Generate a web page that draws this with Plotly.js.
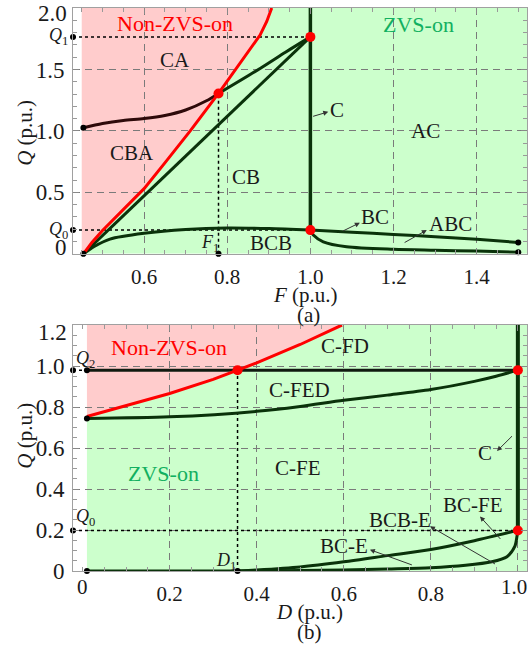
<!DOCTYPE html>
<html>
<head>
<meta charset="utf-8">
<script src="https://cdn.plot.ly/plotly-3.0.1.min.js"></script>
<style>
  html, body { margin: 0; padding: 0; background: #fff; }
  #chart { width: 528px; height: 646px; }
</style>
</head>
<body>
<div id="chart"></div>
<script>
// ---------- (a) Q versus F ----------
const rangeF = [0.429, 1.521];
const rangeQa = [0, 2.0];
const regionStartF = 0.45;

// ZVS-on / Non-ZVS-on boundary
const redF = [0.454, 0.475, 0.5, 0.55, 0.6, 0.65, 0.711, 0.779, 0.83, 0.879, 0.895, 0.907];
const redQ = [0, 0.095, 0.19, 0.36, 0.53, 0.74, 1.0, 1.305, 1.547, 1.78, 1.89, 2.0];
// CA / CBA boundary
const caF = [0.454, 0.5, 0.55, 0.6, 0.65, 0.7, 0.75, 0.779];
const caQ = [1.025, 1.06, 1.085, 1.1, 1.125, 1.17, 1.245, 1.305];
// CA / CB boundary
const upperF = [0.779, 0.88, 0.94, 1.0];
const upperQ = [1.305, 1.51, 1.64, 1.765];
// CBA / CB boundary
const diagF = [0.454, 1.0];
const diagQ = [0, 1.765];
// CB / BCB boundary
const bcbF = [0.454, 0.48, 0.518, 0.6, 0.7, 0.8, 0.9, 1.0];
const bcbQ = [0, 0.06, 0.12, 0.167, 0.198, 0.21, 0.205, 0.193];
// C mode at F = 1
const cF = [1.0, 1.0];
const cQ = [0.193, 2.0];
// BC and ABC branches
const bcF = [1.0, 1.1, 1.2, 1.3, 1.4, 1.5];
const bcQ = [0.193, 0.176, 0.158, 0.139, 0.118, 0.092];
const abcF = [1.0, 1.007, 1.031, 1.087, 1.2, 1.3, 1.4, 1.5];
const abcQ = [0.193, 0.153, 0.098, 0.058, 0.037, 0.029, 0.022, 0.012];
// characteristic points
const F1 = 0.779, QF1 = 1.305, Q1 = 1.765, Q0a = 0.193;

// ---------- (b) Q versus D ----------
const rangeD = [-0.022, 1.021];
const rangeQb = [0, 1.2];
const regionStartD = 0.01;

const redD = [0.01, 0.1, 0.2, 0.3, 0.356, 0.4, 0.5, 0.596];
const redQb = [0.754, 0.806, 0.866, 0.935, 0.98, 1.015, 1.105, 1.2];
const fedD = [0.01, 0.2, 0.4, 0.5, 0.6, 0.7, 0.8, 0.9, 0.95, 1.0];
const fedQ = [0.744, 0.752, 0.779, 0.803, 0.833, 0.858, 0.885, 0.925, 0.95, 0.98];
const q2D = [0.01, 1.0];
const q2Q = [0.98, 0.98];
const cD = [1.0, 1.0];
const cQb = [0.198, 1.2];
const zeroD = [0.01, 0.356];
const zeroQ = [0, 0];
const bceD = [0.356, 0.4, 0.5, 0.6, 0.7, 0.8, 0.9, 1.0];
const bceQ = [0, 0.005, 0.02, 0.045, 0.075, 0.105, 0.148, 0.198];
const bcbeD = [0.356, 0.5, 0.6, 0.7, 0.8, 0.88, 0.94, 0.975, 0.993, 0.998, 1.0];
const bcbeQ = [0, 0.002, 0.005, 0.01, 0.016, 0.028, 0.045, 0.07, 0.12, 0.17, 0.198];
const D1 = 0.356, Q2 = 0.98, Q0b = 0.198;

// tick labels
const ticksF = [0.6, 0.8, 1.0, 1.2, 1.4];
const ticksQa = [0, 0.5, 1.0, 1.5, 2.0];
const ticksD = [0, 0.2, 0.4, 0.6, 0.8, 1.0];
const ticksQb = [0, 0.2, 0.4, 0.6, 0.8, 1.0, 1.2];

// ---------- styling ----------
const SERIF = '"Liberation Serif", "Times New Roman", serif';
const DARK = '#0a320a';
const RED = '#ff0000';
const PINK = 'rgb(255,204,204)';
const GREEN = 'rgb(204,255,204)';
const ZVSGREEN = '#12b060';
const TXT = '#1a1a1a';
const fmt = v => (v === 0 ? '0' : v.toFixed(1));

function pathOf(xs, ys) {
  return 'M' + xs.map((x, i) => x + ',' + ys[i]).join('L') + 'Z';
}

function line(x, y, xa, ya, color, width, dash, shape) {
  return { type: 'scatter', mode: 'lines', x: x, y: y, xaxis: xa, yaxis: ya,
    line: { color: color, width: width, dash: dash || 'solid', shape: shape || 'spline', smoothing: 0.8 },
    hoverinfo: 'skip', showlegend: false, cliponaxis: false };
}
function dots(x, y, xa, ya, color, size) {
  return { type: 'scatter', mode: 'markers', x: x, y: y, xaxis: xa, yaxis: ya,
    marker: { color: color, size: size }, hoverinfo: 'skip', showlegend: false, cliponaxis: false };
}

const traces = [
  // (a)
  line([rangeF[0], 1.0], [Q1, Q1], 'x', 'y', '#000', 1.5, 'dot', 'linear'),
  line([rangeF[0], 1.0], [Q0a, Q0a], 'x', 'y', '#000', 1.5, 'dot', 'linear'),
  line([F1, F1], [0, QF1], 'x', 'y', '#000', 1.5, 'dot', 'linear'),
  line(caF, caQ, 'x', 'y', '#2e0a0a', 3),
  line(upperF, upperQ, 'x', 'y', DARK, 3),
  line(diagF, diagQ, 'x', 'y', DARK, 3, 'solid', 'linear'),
  line(bcbF, bcbQ, 'x', 'y', DARK, 3),
  line(cF, cQ, 'x', 'y', DARK, 3.5, 'solid', 'linear'),
  line(bcF, bcQ, 'x', 'y', DARK, 3),
  line(abcF, abcQ, 'x', 'y', DARK, 3),
  line(redF, redQ, 'x', 'y', RED, 3, 'solid', 'linear'),
  dots([rangeF[0], rangeF[0], F1, redF[0], caF[0], bcF[bcF.length - 1], abcF[abcF.length - 1]],
       [Q1, Q0a, 0, 0, caQ[0], bcQ[bcQ.length - 1], abcQ[abcQ.length - 1]], 'x', 'y', '#000', 6),
  dots([F1, 1.0, 1.0], [QF1, Q1, Q0a], 'x', 'y', RED, 10),

  // (b)
  line([rangeD[0], regionStartD], [Q2, Q2], 'x2', 'y2', '#000', 1.5, 'dot', 'linear'),
  line([rangeD[0], 1.0], [Q0b, Q0b], 'x2', 'y2', '#000', 1.5, 'dot', 'linear'),
  line([D1, D1], [0, Q2], 'x2', 'y2', '#000', 1.5, 'dot', 'linear'),
  line(q2D, q2Q, 'x2', 'y2', '#101a10', 3, 'solid', 'linear'),
  line(fedD, fedQ, 'x2', 'y2', DARK, 3),
  line(cD, cQb, 'x2', 'y2', DARK, 4, 'solid', 'linear'),
  line(zeroD, zeroQ, 'x2', 'y2', DARK, 3, 'solid', 'linear'),
  line(bceD, bceQ, 'x2', 'y2', DARK, 3),
  line(bcbeD, bcbeQ, 'x2', 'y2', DARK, 3),
  line(redD, redQb, 'x2', 'y2', RED, 3, 'solid', 'linear'),
  dots([rangeD[0], regionStartD, regionStartD, rangeD[0], regionStartD, D1],
       [Q2, Q2, fedQ[0], Q0b, 0, 0], 'x2', 'y2', '#000', 6),
  dots([D1, 1.0, 1.0], [Q2, Q2, Q0b], 'x2', 'y2', RED, 10)
];

// region fills drawn beneath the grid
const shapes = [
  { type: 'path', xref: 'x', yref: 'y', layer: 'below', line: { width: 0 }, fillcolor: PINK,
    path: pathOf([regionStartF].concat(redF, [regionStartF]), [0].concat(redQ, [rangeQa[1]])) },
  { type: 'path', xref: 'x', yref: 'y', layer: 'below', line: { width: 0 }, fillcolor: GREEN,
    path: pathOf(redF.concat([rangeF[1], rangeF[1]]), redQ.concat([rangeQa[1], 0])) },
  { type: 'path', xref: 'x2', yref: 'y2', layer: 'below', line: { width: 0 }, fillcolor: PINK,
    path: pathOf(redD.concat([regionStartD]), redQb.concat([rangeQb[1]])) },
  { type: 'path', xref: 'x2', yref: 'y2', layer: 'below', line: { width: 0 }, fillcolor: GREEN,
    path: pathOf([regionStartD].concat(redD, [rangeD[1], rangeD[1]]), [0].concat(redQb, [rangeQb[1], 0])) }
];

function label(xa, ya, x, y, text, color, size, extra) {
  return Object.assign({ xref: xa, yref: ya, x: x, y: y, text: text, showarrow: false,
    xanchor: 'center', yanchor: 'middle',
    font: { family: SERIF, size: size || 21, color: color || TXT } }, extra || {});
}
function arrow(xa, ya, tailX, tailY, headX, headY) {
  return { xref: xa, yref: ya, axref: xa, ayref: ya, x: headX, y: headY, ax: tailX, ay: tailY,
    text: '', showarrow: true, arrowhead: 2, arrowsize: 1, arrowwidth: 1, arrowcolor: '#333', standoff: 0 };
}

const annotations = [
  // (a)
  label('x', 'y', 0.675, 1.874, 'Non-ZVS-on', RED, 22),
  label('x', 'y', 1.26, 1.868, 'ZVS-on', ZVSGREEN, 22),
  label('x', 'y', 0.675, 1.576, 'CA'),
  label('x', 'y', 0.572, 0.822, 'CBA'),
  label('x', 'y', 0.845, 0.627, 'CB'),
  label('x', 'y', 1.276, 1.0, 'AC'),
  label('x', 'y', 0.905, 0.087, 'BCB'),
  label('x', 'y', 1.063, 1.17, 'C'),
  label('x', 'y', 1.155, 0.30, 'BC'),
  label('x', 'y', 1.336, 0.242, 'ABC'),
  label('x', 'y', 0.758, 0.08, '<i>F</i><sub>1</sub>', TXT, 18),
  label('paper', 'y', 0, Q1, '<i>Q</i><sub>1</sub>', TXT, 18, { xanchor: 'right', xshift: -3 }),
  label('paper', 'y', 0, Q0a, '<i>Q</i><sub>0</sub>', TXT, 18, { xanchor: 'right', xshift: -3 }),
  label('paper', 'y', 0, 1.955, fmt(ticksQa[4]), TXT, 23, { xanchor: 'right', xshift: -4 }),
  label('paper', 'y', 0, 0.05, fmt(ticksQa[0]), TXT, 23, { xanchor: 'right', xshift: -4 }),
  arrow('x', 'y', 1.003, 1.115, 1.043, 1.155),
  arrow('x', 'y', 1.075, 0.18, 1.119, 0.253),
  arrow('x', 'y', 1.223, 0.085, 1.28, 0.193),
  label('paper', 'paper', -0.106, 0.778, '<i>Q</i> (p.u.)', TXT, 21, { textangle: -90 }),
  label('paper', 'paper', 0.513, 0.491, '<i>F</i> (p.u.)'),
  label('paper', 'paper', 0.518, 0.4547, '(a)'),

  // (b)
  label('x2', 'y2', 0.198, 1.088, 'Non-ZVS-on', RED, 22),
  label('x2', 'y2', 0.186, 0.477, 'ZVS-on', ZVSGREEN, 22),
  label('x2', 'y2', 0.603, 1.096, 'C-FD'),
  label('x2', 'y2', 0.498, 0.884, 'C-FED'),
  label('x2', 'y2', 0.495, 0.503, 'C-FE'),
  label('x2', 'y2', 0.925, 0.575, 'C'),
  label('x2', 'y2', 0.898, 0.323, 'BC-FE'),
  label('x2', 'y2', 0.729, 0.25, 'BCB-E'),
  label('x2', 'y2', 0.60, 0.12, 'BC-E'),
  label('x2', 'y2', 0.33, 0.047, '<i>D</i><sub>1</sub>', TXT, 18),
  label('x2', 'y2', 0.006, 1.03, '<i>Q</i><sub>2</sub>', TXT, 18),
  label('x2', 'y2', 0.006, 0.262, '<i>Q</i><sub>0</sub>', TXT, 18),
  label('x2', 'paper', ticksD[0], -0.004, fmt(ticksD[0]), TXT, 21, { yanchor: 'top' }),
  label('x2', 'paper', 0.99, -0.004, fmt(ticksD[5]), TXT, 21, { yanchor: 'top' }),
  label('paper', 'y2', 0, 1.165, fmt(ticksQb[6]), TXT, 23, { xanchor: 'right', xshift: -4 }),
  arrow('x2', 'y2', 0.99, 0.665, 0.952, 0.585),
  arrow('x2', 'y2', 0.963, 0.149, 0.913, 0.266),
  arrow('x2', 'y2', 0.951, 0.03, 0.798, 0.218),
  arrow('x2', 'y2', 0.76, 0.027, 0.66, 0.104),
  label('paper', 'paper', -0.106, 0.24, '<i>Q</i> (p.u.)', TXT, 21, { textangle: -90 }),
  label('paper', 'paper', 0.520, -0.0728, '<i>D</i> (p.u.)'),
  label('paper', 'paper', 0.522, -0.108, '(b)')
];

const axisBase = {
  showline: true, linecolor: '#a0a0a0', linewidth: 1, mirror: 'allticks',
  ticks: 'inside', ticklen: 6, tickcolor: '#888', tickwidth: 1,
  showgrid: true, gridcolor: '#7a7a7a', gridwidth: 1, griddash: '7px,5px',
  zeroline: false, tickmode: 'array', ticklabeloverflow: 'allow'
};
function ax(extra) { return Object.assign({}, axisBase, extra); }
const minorOf = d => ({ dtick: d, tick0: 0, ticks: 'inside', ticklen: 4, tickcolor: '#999', showgrid: false });
const xFont = { family: SERIF, size: 21, color: TXT };
const yFont = { family: SERIF, size: 23, color: TXT };

const layout = {
  width: 528, height: 646,
  margin: { l: 73, r: 1, t: 8, b: 75 },
  paper_bgcolor: '#fff', plot_bgcolor: '#fff',
  showlegend: false,
  xaxis: ax({ domain: [0, 1], range: rangeF, anchor: 'y',
    tickvals: ticksF, ticktext: ticksF.map(fmt), tickfont: xFont,
    minor: minorOf(0.05), ticklabelstandoff: 4 }),
  yaxis: ax({ domain: [0.5634, 1], range: rangeQa, anchor: 'x',
    tickvals: ticksQa, ticktext: ticksQa.map((v, i) => (i === 4 || i === 0 ? '' : fmt(v))), tickfont: yFont,
    minor: minorOf(0.1), ticklabelstandoff: 3 }),
  xaxis2: ax({ domain: [0, 1], range: rangeD, anchor: 'y2',
    tickvals: ticksD.slice(1), ticktext: ticksD.slice(1).map((v, i) => (i === 4 ? '' : fmt(v))), tickfont: xFont,
    minor: minorOf(0.05), ticklabelstandoff: 4 }),
  yaxis2: ax({ domain: [0, 0.4369], range: rangeQb, anchor: 'x2',
    tickvals: ticksQb, ticktext: ticksQb.map((v, i) => (i === 6 ? '' : fmt(v))), tickfont: yFont,
    minor: minorOf(0.05), ticklabelstandoff: 3 }),
  shapes: shapes,
  annotations: annotations
};

Plotly.newPlot('chart', traces, layout, { displayModeBar: false, staticPlot: true });
</script>
</body>
</html>
